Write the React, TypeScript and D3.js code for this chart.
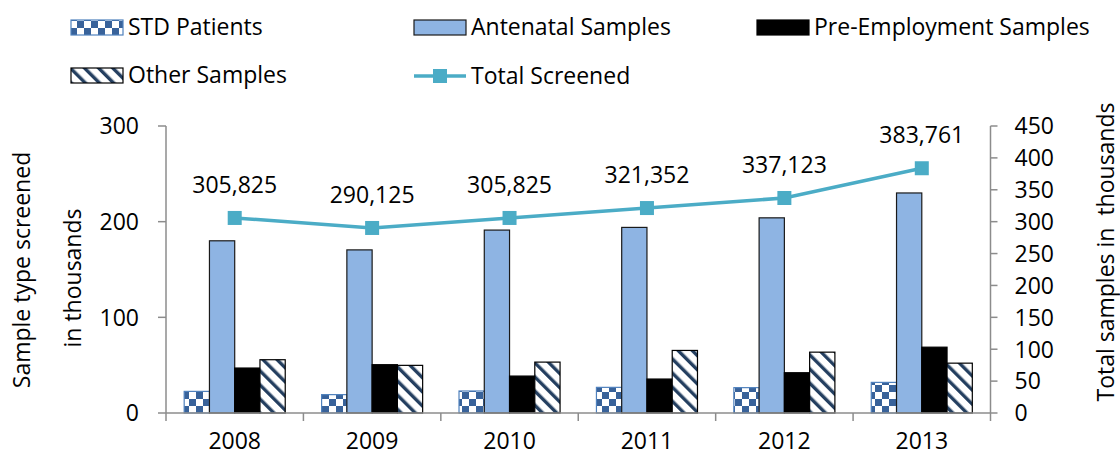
import React from 'react'
import * as d3 from 'd3'

const years = ['2008', '2009', '2010', '2011', '2012', '2013']
const stdPatients = [22.6, 19.2, 23, 26.8, 26.5, 32]
const antenatal = [180, 170.5, 191.2, 194, 204, 230]
const preEmployment = [47, 50.5, 38.6, 35.5, 42.1, 68.8]
const otherSamples = [55.7, 49.8, 53.2, 65.4, 63.6, 52.1]
const totalScreened = [305825, 290125, 305825, 321352, 337123, 383761]
const leftTicks = [0, 100, 200, 300]
const rightTicks = [0, 50, 100, 150, 200, 250, 300, 350, 400, 450]

const seriesNames = ['STD Patients', 'Antenatal Samples', 'Pre-Employment Samples', 'Other Samples']
const seriesFill = ['url(#checker)', '#8EB4E3', '#000000', 'url(#stripes)']
const seriesStroke = ['#4F81BD', '#1a1a1a', '#000000', '#000000']
const lineColor = '#4BACC6'
const axisColor = '#8c8c8c'
const font = "'Open Sans', sans-serif"

const App = () => {
  const W = 1120
  const H = 457
  const left = 166
  const right = 990.5
  const top = 126
  const bottom = 413

  const x = d3.scaleBand<string>().domain(years).range([left, right]).padding(0)
  const inner = d3.scaleBand<number>().domain([0, 1, 2, 3]).range([0, x.bandwidth()]).paddingInner(0).paddingOuter(0.72)
  const yL = d3.scaleLinear().domain([0, 300]).range([bottom, top])
  const yR = d3.scaleLinear().domain([0, 450]).range([bottom, top])

  const values = [stdPatients, antenatal, preEmployment, otherSamples]
  const line = d3.line<number>()
    .x((_, i) => (x(years[i]) as number) + x.bandwidth() / 2)
    .y(d => yR(d / 1000))

  const boundaries = years.map(y => x(y) as number).concat([right])
  const fmt = d3.format(',')
  const mk = 14

  // legend positions
  const legendItems = [
    { kind: 0, x: 71, y: 20 },
    { kind: 1, x: 414, y: 20 },
    { kind: 2, x: 757, y: 20 },
    { kind: 3, x: 71, y: 68 },
  ]

  return (
    <svg width={W} height={H} style={{ display: 'block', position: 'absolute', left: 0, top: 0 }} fontFamily={font}>
      <defs>
        <pattern id="checker" width={14} height={14} patternUnits="userSpaceOnUse">
          <rect width={14} height={14} fill="#ffffff" />
          <rect width={7} height={7} fill="#38629A" />
          <rect x={7} y={7} width={7} height={7} fill="#38629A" />
        </pattern>
        <pattern id="stripes" width={10} height={10} patternUnits="userSpaceOnUse" patternTransform="rotate(-45)">
          <rect width={10} height={10} fill="#ffffff" />
          <rect width={3.4} height={10} fill="#243F60" />
        </pattern>
      </defs>
      <rect width={W} height={H} fill="#ffffff" />

      {/* bars */}
      {years.map((yr, i) => (
        <g key={yr}>
          {values.map((vals, s) => (
            <rect
              key={s}
              x={(x(yr) as number) + (inner(s) as number)}
              y={yL(vals[i])}
              width={inner.bandwidth()}
              height={bottom - yL(vals[i])}
              fill={seriesFill[s]}
              stroke={seriesStroke[s]}
              strokeWidth={1.2}
            />
          ))}
        </g>
      ))}

      {/* axes */}
      <line x1={left} x2={right} y1={bottom} y2={bottom} stroke={axisColor} strokeWidth={1.5} />
      <line x1={left} x2={left} y1={top} y2={bottom} stroke={axisColor} strokeWidth={1.5} />
      <line x1={right} x2={right} y1={top} y2={bottom} stroke={axisColor} strokeWidth={1.5} />
      {boundaries.map((b, i) => (
        <line key={i} x1={b} x2={b} y1={bottom} y2={bottom + 8} stroke={axisColor} strokeWidth={1.5} />
      ))}
      {leftTicks.map(t => (
        <g key={t}>
          <line x1={left - 8} x2={left} y1={yL(t)} y2={yL(t)} stroke={axisColor} strokeWidth={1.5} />
          <text x={left - 27} y={yL(t)} dy="0.36em" textAnchor="end" fontSize={23} fill="#000">{t}</text>
        </g>
      ))}
      {rightTicks.map(t => (
        <g key={t}>
          <line x1={right} x2={right + 7} y1={yR(t)} y2={yR(t)} stroke={axisColor} strokeWidth={1.5} />
          <text x={right + 24} y={yR(t)} dy="0.36em" textAnchor="start" fontSize={23} fill="#000">{t}</text>
        </g>
      ))}
      {years.map(yr => (
        <text key={yr} x={(x(yr) as number) + x.bandwidth() / 2} y={449} textAnchor="middle" fontSize={23} fill="#000">{yr}</text>
      ))}

      {/* total line */}
      <path d={line(totalScreened) || ''} fill="none" stroke={lineColor} strokeWidth={3.5} />
      {totalScreened.map((v, i) => {
        const cx = (x(years[i]) as number) + x.bandwidth() / 2
        const cy = yR(v / 1000)
        return (
          <g key={i}>
            <rect x={cx - mk / 2} y={cy - mk / 2} width={mk} height={mk} fill={lineColor} />
            <text x={cx} y={cy - 25} textAnchor="middle" fontSize={23} fill="#000">{fmt(v)}</text>
          </g>
        )
      })}

      {/* axis titles */}
      <text transform="translate(21,270) rotate(-90)" textAnchor="middle" dominantBaseline="central" fontSize={23} fill="#000">Sample type screened</text>
      <text transform="translate(72,278) rotate(-90)" textAnchor="middle" dominantBaseline="central" fontSize={23} fill="#000">in thousands</text>
      <text transform="translate(1105,252) rotate(-90)" textAnchor="middle" dominantBaseline="central" fontSize={23} fill="#000" style={{ whiteSpace: 'pre' }}>Total samples in  thousands</text>

      {/* legend */}
      {legendItems.map(it => (
        <g key={it.kind}>
          <rect x={it.x} y={it.y} width={52} height={15} fill={seriesFill[it.kind]} stroke={seriesStroke[it.kind]} strokeWidth={1.2} />
          <text x={it.x + 57} y={it.y + 15} fontSize={23} fill="#000">{seriesNames[it.kind]}</text>
        </g>
      ))}
      <g>
        <line x1={414} x2={466} y1={76} y2={76} stroke={lineColor} strokeWidth={3.5} />
        <rect x={440 - mk / 2} y={76 - mk / 2} width={mk} height={mk} fill={lineColor} />
        <text x={471} y={83.5} fontSize={23} fill="#000">Total Screened</text>
      </g>
    </svg>
  )
}

export default App
